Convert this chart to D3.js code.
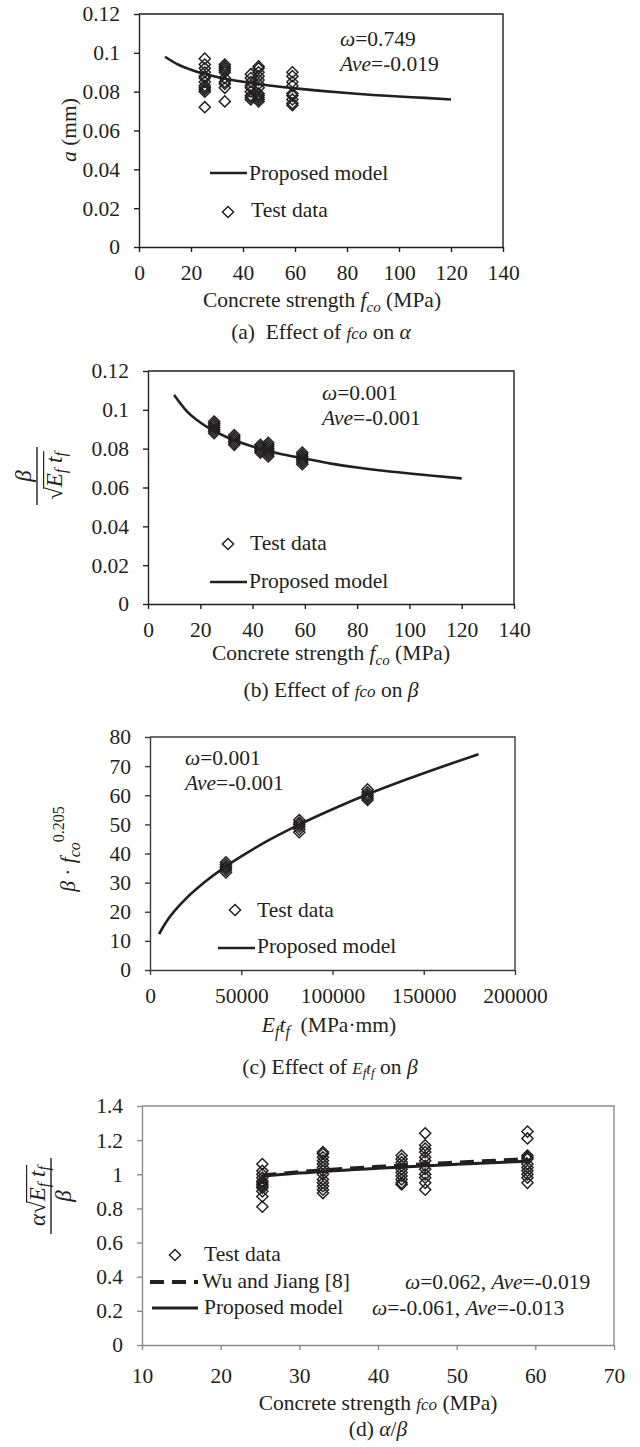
<!DOCTYPE html>
<html><head><meta charset="utf-8">
<script src="https://cdn.jsdelivr.net/npm/d3@7"></script>
<style>
body{margin:0;background:#fff}
svg{display:block}
svg text{font-family:'Liberation Serif','Tinos','Times New Roman','DejaVu Serif','Noto Serif',serif;fill:#231f20}
</style>
</head><body>
<svg id="chart" width="640" height="1447" font-family="Liberation Serif, Tinos, Times New Roman, DejaVu Serif, serif"></svg>
<script>
// ---------------- data ----------------
const xTicksFco = [0,20,40,60,80,100,120,140];
const yTicksAB = [0,0.02,0.04,0.06,0.08,0.1,0.12];
const xTicksC = [0,50000,100000,150000,200000];
const yTicksC = [0,10,20,30,40,50,60,70,80];
const xTicksD = [10,20,30,40,50,60,70];
const yTicksD = [0,0.2,0.4,0.6,0.8,1,1.2,1.4];

const fcoCols = [25.3,33,43,46,59];
// (a) alpha test data per column
const alphaTest = [
  [0.097,0.094,0.092,0.090,0.088,0.087,0.085,0.083,0.082,0.081,0.080,0.072],
  [0.094,0.093,0.092,0.091,0.090,0.087,0.085,0.084,0.082,0.075],
  [0.089,0.087,0.085,0.083,0.082,0.080,0.078,0.077,0.076],
  [0.093,0.092,0.090,0.088,0.086,0.084,0.082,0.079,0.078,0.077,0.076,0.075],
  [0.090,0.088,0.085,0.083,0.079,0.078,0.076,0.074,0.073]
];
const fcoModel = [10,15,20,30,40,50,60,70,80,90,100,110,120];
const alphaModel = [0.0980,0.0940,0.0913,0.0876,0.0851,0.0832,0.0817,0.0804,0.0793,0.0783,0.0775,0.0768,0.0760];
// (b)
const betaTest = [
  [0.094,0.093,0.092,0.091,0.090,0.089,0.088],
  [0.087,0.086,0.085,0.084,0.083,0.082],
  [0.082,0.081,0.080,0.079,0.078],
  [0.083,0.082,0.081,0.080,0.079,0.078,0.077,0.076],
  [0.078,0.077,0.076,0.075,0.074,0.073,0.072]
];
const betaModel = [0.1077,0.0991,0.0935,0.0860,0.0811,0.0775,0.0749,0.0723,0.0703,0.0686,0.0672,0.0659,0.0647];
// (c)
const eftfCols = [41600,81800,119200];
const cTest = [
  [37.0,36.2,35.5,35.0,34.3,33.5],
  [51.5,50.6,50.0,49.2,48.3,47.3],
  [62.0,61.0,60.2,59.6,59.0,58.4]
];
const eftfModel = [5000,7500,10000,15000,20000,30000,40000,50000,60000,80000,100000,120000,140000,160000,180000];
const cModel = [12.3,15.1,17.5,21.4,24.7,30.2,34.9,39.0,42.8,49.4,55.2,60.5,65.3,69.8,74.1];
// (d)
const ratioTest = [
  [1.06,1.02,1.00,0.98,0.96,0.95,0.94,0.93,0.92,0.90,0.87,0.81],
  [1.13,1.12,1.10,1.08,1.06,1.04,1.02,1.00,0.97,0.95,0.93,0.91,0.89],
  [1.11,1.09,1.07,1.05,1.03,1.01,0.99,0.97,0.95,0.94],
  [1.24,1.17,1.15,1.13,1.10,1.08,1.05,1.03,1.00,0.98,0.95,0.91],
  [1.25,1.21,1.11,1.10,1.09,1.06,1.04,1.02,1.00,0.98,0.95]
];
const fcoLine = [25.3,30,40,50,59];
const proposedD = [0.990,1.007,1.036,1.059,1.077];
const wuJiangD = [0.995,1.014,1.045,1.070,1.090];

// ---------------- drawing ----------------
const FONT = "'Liberation Serif','Tinos','Times New Roman','DejaVu Serif',serif";
const FS = 21.5;
const svg = d3.select('#chart');
const INK = '#231f20';
const diamondType = {draw(ctx,size){const r=Math.sqrt(size/2);ctx.moveTo(0,-r);ctx.lineTo(r,0);ctx.lineTo(0,r);ctx.lineTo(-r,0);ctx.closePath();}};
const diamond = d3.symbol().type(diamondType).size(62);

function rich(g, x, y, parts, fs, anchor){
  const t = g.append('text').attr('x',x).attr('y',y).attr('font-size',fs||FS)
    .attr('font-family',FONT).attr('text-anchor',anchor||'start')
    .style('white-space','pre');
  parts.forEach(p=>{
    const s = t.append('tspan').text(p.t);
    if(p.i) s.attr('font-style','italic');
    if(p.fs) s.attr('font-size',p.fs);
    if(p.dy) s.attr('dy',p.dy);
  });
  return t;
}

function frame(cfg){
  const x = d3.scaleLinear().domain(cfg.xd).range([cfg.l,cfg.r]);
  const y = d3.scaleLinear().domain(cfg.yd).range([cfg.b,cfg.t]);
  const g = svg.append('g');
  const col = cfg.axisColor || INK;
  g.append('path').attr('d',`M${cfg.l},${cfg.t}H${cfg.r}V${cfg.b}`)
    .attr('fill','none').attr('stroke',col).attr('stroke-width',1.4);
  const xa = g.append('g').attr('transform',`translate(0,${cfg.b})`)
    .call(d3.axisBottom(x).tickValues(cfg.xt).tickFormat(d=>String(d))
      .tickSizeInner(5).tickSizeOuter(0).tickPadding(cfg.xpad||13));
  const ya = g.append('g').attr('transform',`translate(${cfg.l},0)`)
    .call(d3.axisLeft(y).tickValues(cfg.yt).tickFormat(d=>String(d))
      .tickSizeInner(5).tickSizeOuter(0).tickPadding(14));
  [xa,ya].forEach(a=>{
    a.attr('font-family',FONT).attr('font-size',FS);
    a.selectAll('path,line').attr('stroke',col).attr('stroke-width',1.4);
    a.selectAll('text').attr('font-size',FS).attr('font-family',FONT).attr('fill',INK);
  });
  return {x,y,g};
}

function points(p, cols, vals){
  const data = vals.flatMap((arr,i)=>arr.map(v=>({x:cols[i],y:v})));
  p.g.append('g').selectAll('path').data(data).join('path')
    .attr('d',diamond).attr('transform',d=>`translate(${p.x(d.x)},${p.y(d.y)})`)
    .attr('fill','none').attr('stroke',INK).attr('stroke-width',1.45);
}
function curve(p, xs, ys, w, dash){
  const line = d3.line().x(d=>p.x(d[0])).y(d=>p.y(d[1])).curve(d3.curveMonotoneX);
  const path = p.g.append('path').attr('d',line(xs.map((v,i)=>[v,ys[i]])))
    .attr('fill','none').attr('stroke',INK).attr('stroke-width',w||2.6);
  if(dash) path.attr('stroke-dasharray',dash);
}
function legLine(x1,x2,y,w,dash){
  const l = svg.append('line').attr('x1',x1).attr('x2',x2).attr('y1',y).attr('y2',y)
    .attr('stroke',INK).attr('stroke-width',w||2.6);
  if(dash) l.attr('stroke-dasharray',dash);
}
function legDiamond(x,y){
  svg.append('path').attr('d',diamond).attr('transform',`translate(${x},${y})`)
    .attr('fill','none').attr('stroke',INK).attr('stroke-width',1.45);
}
function overline(g, t, from, y){
  const n = t.node();
  const s = n.getEndPositionOfChar(from).x;
  const e = n.getEndPositionOfChar(n.getNumberOfChars()-1).x + 1;
  g.append('line').attr('x1',s-1.5).attr('x2',e).attr('y1',y).attr('y2',y)
    .attr('stroke',INK).attr('stroke-width',1.2);
}
const subF = (dy)=>({t:'f',i:true,fs:16,dy:dy});
const SP = '\u00a0';

// ===== Panel (a) =====
const pa = frame({l:139,r:503,t:14,b:247,xd:[0,140],yd:[0,0.12],xt:xTicksFco,yt:yTicksAB});
points(pa, fcoCols, alphaTest);
curve(pa, fcoModel, alphaModel);
rich(svg,340,46,[{t:'ω',i:true},{t:'=0.749'}]);
rich(svg,340,71,[{t:'Ave',i:true},{t:'=-0.019'}]);
legLine(210,247,173); rich(svg,249,180,[{t:'Proposed model'}]);
legDiamond(228,212); rich(svg,251,217,[{t:'Test data'}]);
rich(svg,322,307,[{t:'Concrete strength '},{t:'f',i:true},{t:'co',i:true,fs:15,dy:5},{t:' (MPa)',dy:-5}],FS,'middle');
rich(svg,321,339,[{t:'(a)'+SP+' Effect of '},{t:'fco',i:true,fs:17},{t:' on '},{t:'α',i:true}],FS,'middle');
{
  const g = svg.append('g').attr('transform','translate(76,130) rotate(-90)');
  rich(g,0,0,[{t:'a',i:true},{t:' (mm)'}],FS,'middle');
}

// ===== Panel (b) =====
const pb = frame({l:148,r:514,t:371,b:604,xd:[0,140],yd:[0,0.12],xt:xTicksFco,yt:yTicksAB});
points(pb, fcoCols, betaTest);
curve(pb, fcoModel, betaModel);
rich(svg,322,400,[{t:'ω',i:true},{t:'=0.001'}]);
rich(svg,322,425,[{t:'Ave',i:true},{t:'=-0.001'}]);
legDiamond(228,544); rich(svg,250,550,[{t:'Test data'}]);
legLine(210,247,582); rich(svg,249,588,[{t:'Proposed model'}]);
rich(svg,331,660,[{t:'Concrete strength '},{t:'f',i:true},{t:'co',i:true,fs:15,dy:5},{t:' (MPa)',dy:-5}],FS,'middle');
rich(svg,331,697,[{t:'(b) Effect of '},{t:'fco',i:true,fs:17},{t:' on '},{t:'β',i:true}],FS,'middle');
{
  const g = svg.append('g').attr('transform','translate(37,476) rotate(-90)');
  rich(g,0,-6,[{t:'β',i:true}],23,'middle');
  g.append('line').attr('x1',-29).attr('x2',29).attr('y1',0).attr('y2',0).attr('stroke',INK).attr('stroke-width',1.4);
  const t = rich(g,0,25,[{t:'√'},{t:'E',i:true},subF(4),{t:' t',i:true,dy:-4},subF(4)],23,'middle');
  overline(g,t,0,25-23*0.8);
}

// ===== Panel (c) =====
const pc = frame({l:150,r:515,t:737,b:970,xd:[0,200000],yd:[0,80],xt:xTicksC,yt:yTicksC,axisColor:'#3a3a3a'});
points(pc, eftfCols, cTest);
curve(pc, eftfModel, cModel);
rich(svg,185,765,[{t:'ω',i:true},{t:'=0.001'}]);
rich(svg,185,790,[{t:'Ave',i:true},{t:'=-0.001'}]);
legDiamond(235,910); rich(svg,257,917,[{t:'Test data'}]);
legLine(218,255,948); rich(svg,257,953,[{t:'Proposed model'}]);
rich(svg,329,1032,[{t:'E',i:true},subF(5),{t:'t',i:true,dy:-5},subF(5),{t:SP+SP+'(MPa·mm)',dy:-5}],FS,'middle');
rich(svg,330,1074,[{t:'(c) Effect of '},{t:'E',i:true,fs:17},{t:'f',i:true,fs:13,dy:3},{t:'t',i:true,fs:17,dy:-3},{t:'f',i:true,fs:13,dy:3},{t:' on ',dy:-3},{t:'β',i:true}],FS,'middle');
{
  const g = svg.append('g').attr('transform','translate(75,849) rotate(-90)');
  rich(g,0,0,[{t:'β',i:true},{t:' · '},{t:'f',i:true},{t:'co',i:true,fs:16,dy:5},{t:'0.205',fs:16,dy:-16}],FS,'middle');
}

// ===== Panel (d) =====
const pd = frame({l:142,r:614,t:1106,b:1345,xd:[10,70],yd:[0,1.4],xt:xTicksD,yt:yTicksD,axisColor:'#8a8a8a',xpad:18});
points(pd, fcoCols, ratioTest);
curve(pd, fcoLine, wuJiangD, 3.5, '14,8');
curve(pd, fcoLine, proposedD, 3);
legDiamond(175,1255); rich(svg,204,1261,[{t:'Test data'}]);
legLine(150,198,1282,4,'14,8'); rich(svg,202,1288,[{t:'Wu and Jiang [8]'}]);
legLine(152,198,1308,3); rich(svg,204,1314,[{t:'Proposed model'}]);
rich(svg,405,1289,[{t:'ω',i:true},{t:'=0.062, '},{t:'Ave',i:true},{t:'=-0.019'}]);
rich(svg,372,1315,[{t:'ω',i:true},{t:'=-0.061, '},{t:'Ave',i:true},{t:'=-0.013'}]);
rich(svg,378,1410,[{t:'Concrete strength '},{t:'fco',i:true,fs:17},{t:' (MPa)'}],FS,'middle');
rich(svg,378,1436,[{t:'(d) '},{t:'α',i:true},{t:'/'},{t:'β',i:true}],FS,'middle');
{
  const g = svg.append('g').attr('transform','translate(50,1196) rotate(-90)');
  const t = rich(g,0,-5,[{t:'α',i:true},{t:'√'},{t:'E',i:true},subF(4),{t:' t',i:true,dy:-4},subF(4)],23,'middle');
  overline(g,t,1,-5-23*0.8);
  g.append('line').attr('x1',-38).attr('x2',38).attr('y1',1).attr('y2',1).attr('stroke',INK).attr('stroke-width',1.4);
  rich(g,0,21,[{t:'β',i:true}],23,'middle');
}
</script>
</body></html>
